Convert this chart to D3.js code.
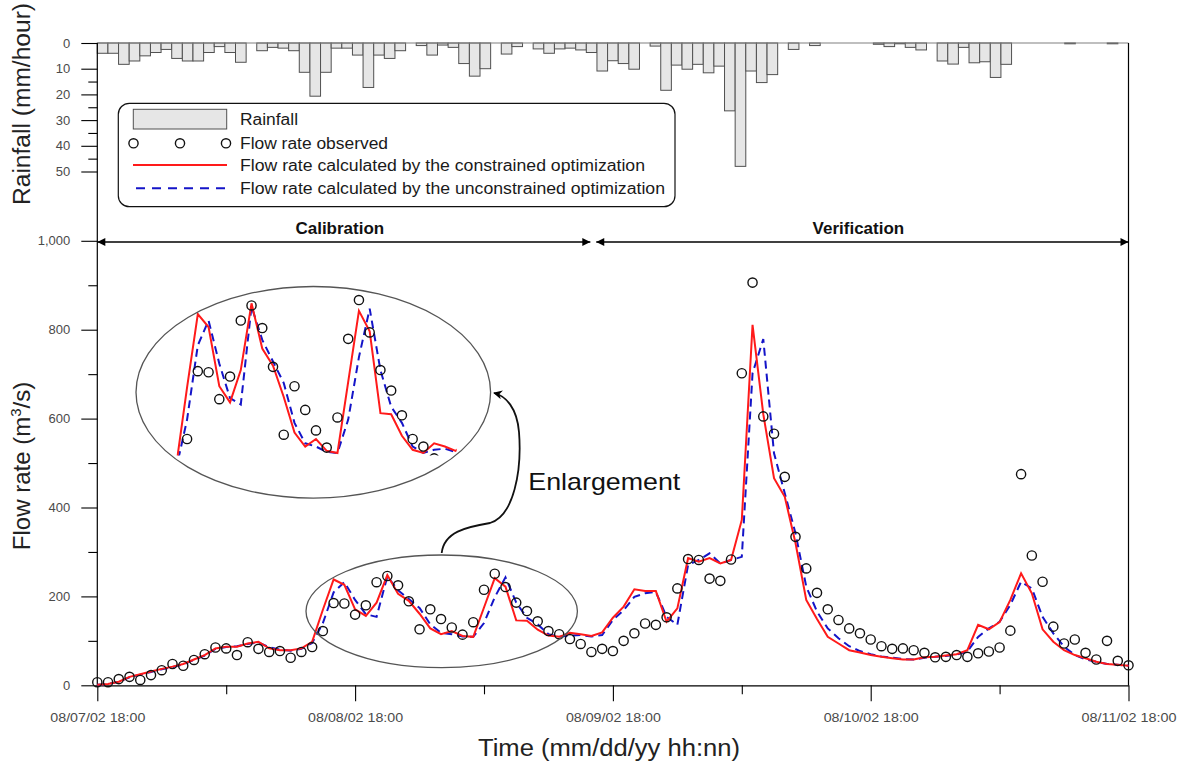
<!DOCTYPE html>
<html><head><meta charset="utf-8">
<script src="https://cdn.jsdelivr.net/npm/d3@7/dist/d3.min.js"></script>
<style>
body{margin:0;background:#fff}
svg{display:block}
text{font-family:"Liberation Sans",Arial,sans-serif}
</style>
</head><body>
<svg id="c" width="1184" height="763"></svg>
<script>
// ---------------- DATA ----------------
const hours = d3.range(0, 97); // hourly steps from 08/07/02 18:00
const rainfall = [4,4,8.3,7,5,3.7,2.5,6,7,7, 3.7,1.4,3.7,7.5,0,3,1.7,2,3,11.4,
  20.7,11.4,2,2,4.7,17.3,4.7,6,3,0, 1,4.7,0.8,1.7,8,12.9,10,0,4.3,1.4,
  0,2.3,4,2.3,2,2.7,3.7,10.9,6.9,8, 10.2,0,1.2,18.4,8.6,10.2,8.3,11.6,9,26.4,
  48,10.9,15.4,12.3,0,2.5,0,1,0,0, 0,0,0,0.5,1.4,0.3,1.7,2.7,0,7,
  8.2,1.7,7.7,7.3,13.4,8.3,0,0,0,0, 0,0.3,0,0,0,0.3,0];
const observed = [7,7,14,19,12,23,34,48,44,57, 70,85,83,68,97,82,75,77,62,75,
  86,122,185,184,159,180,232,246,225,189, 126,171,149,130,114,142,215,251,221,186,
  167,144,122,115,104,93,75,82,77,100, 117,139,136,153,218,284,282,240,235,283,
  702,906,605,566,469,334,263,208,171,147, 128,117,103,88,82,83,79,73,63,64,
  68,64,72,76,85,123,475,292,233,132, 94,103,73,58,100,55,45];
const constrained = [1,3,8,19,25,31,37,42,48,58, 68,83,87,87,94,98,83,79,79,83,
  98,170,238,226,171,156,186,248,206,190, 161,128,115,122,111,109,175,241,222,146,
  145,125,112,109,118,115,111,119,152,177, 216,212,212,143,173,286,278,286,274,282,
  372,811,610,466,424,320,192,149,109,94, 79,74,68,64,61,58,58,63,64,67,
  70,79,136,126,142,192,252,207,126,98, 79,68,61,53,48,46,44];
const unconstrained = [1,3,8,18,24,30,36,41,47,57, 67,82,86,88,93,96,86,80,78,82,
  95,140,209,232,192,160,154,245,214,194, 174,137,118,115,110,109,140,198,243,186,
  152,137,115,109,112,113,110,113,147,169, 199,207,210,154,136,271,282,297,274,282,
  289,702,779,522,432,342,222,166,128,106, 88,77,70,65,62,59,58,62,64,66,
  69,76,109,128,143,181,233,218,154,117, 87,68,58,53,48,46,44];
const xTickHours = [0,24,48,72,96];
const xMinorHours = [12,36,60,84];
const xTickLabels = ["08/07/02 18:00","08/08/02 18:00","08/09/02 18:00","08/10/02 18:00","08/11/02 18:00"];
const flowTicks = [0,200,400,600,800,1000];
const flowMinor = [100,300,500,700,900];
const rainTicks = [0,10,20,30,40,50];
const rainMinor = [15,25,35,45];
const periods = [{label:"Calibration", from:0, to:45.9},{label:"Verification", from:46.45, to:96}];
const legendItems = [
  {type:"bar", label:"Rainfall"},
  {type:"dot", label:"Flow rate observed"},
  {type:"red", label:"Flow rate calculated by the constrained optimization"},
  {type:"blue", label:"Flow rate calculated by the unconstrained optimization"}
];
const legendLengths = [58,148,405,425];
const insetRange = [20, 46.1];

// ---------------- DRAW ----------------
const svg = d3.select("#c");
const X0 = 97.3, X1 = 1128.5, Y0 = 685.3, YTOP = 43;
const x = d3.scaleLinear().domain([0,96]).range([X0,X1]);
const xb = d3.scaleBand().domain(hours).range([X0,X1]).padding(0);
const y = d3.scaleLinear().domain([0,1000]).range([Y0,240.8]);
const yr = d3.scaleLinear().domain([0,50]).range([YTOP,171.5]);
const RED = "#ff1a1a", BLUE = "#1414c8";

const defs = svg.append("defs");
defs.append("marker").attr("id","ah").attr("viewBox","0 0 10 10").attr("refX",10).attr("refY",5)
  .attr("markerWidth",10).attr("markerHeight",8).attr("markerUnits","userSpaceOnUse").attr("orient","auto-start-reverse")
  .append("path").attr("d","M0,0L10,5L0,10z").attr("fill","#000");
defs.append("marker").attr("id","ah2").attr("viewBox","0 0 10 10").attr("refX",9).attr("refY",5)
  .attr("markerWidth",11).attr("markerHeight",9).attr("markerUnits","userSpaceOnUse").attr("orient","auto")
  .append("path").attr("d","M0,0L10,5L0,10L3,5z").attr("fill","#000");

// rainfall bars
svg.append("g").selectAll("rect").data(hours.filter(i=>rainfall[i]>0)).join("rect")
  .attr("x",i=>xb(i)).attr("y",yr(0)).attr("width",xb.bandwidth())
  .attr("height",i=>Math.max(0.8,yr(rainfall[i])-yr(0)))
  .attr("fill","#e6e6e6").attr("stroke","#505050").attr("stroke-width",1);

// frame
svg.append("line").attr("x1",X0).attr("x2",X1).attr("y1",YTOP).attr("y2",YTOP).attr("stroke","#808080").attr("stroke-width",1.2);
svg.append("line").attr("x1",X1).attr("x2",X1).attr("y1",YTOP).attr("y2",Y0).attr("stroke","#000").attr("stroke-width",1.2);
svg.append("line").attr("x1",X0).attr("x2",X0).attr("y1",YTOP).attr("y2",Y0).attr("stroke","#000").attr("stroke-width",1.2);

function styleAxis(g){
  g.select(".domain").remove();
  g.selectAll(".tick line").attr("stroke","#000").attr("stroke-width",1.1);
  g.selectAll(".tick text").attr("fill","#4a4a4a").style("font-size","13px");
}
svg.append("g").attr("transform",`translate(${X0},0)`)
  .call(d3.axisLeft(yr).tickValues(rainTicks).tickSize(16).tickPadding(11)).call(styleAxis);
svg.append("g").attr("transform",`translate(${X0},0)`)
  .call(d3.axisLeft(yr).tickValues(rainMinor).tickSize(9).tickFormat("")).call(styleAxis);
svg.append("g").attr("transform",`translate(${X0},0)`)
  .call(d3.axisLeft(y).tickValues(flowTicks).tickSize(16).tickPadding(11).tickFormat(d3.format(","))).call(styleAxis);
svg.append("g").attr("transform",`translate(${X0},0)`)
  .call(d3.axisLeft(y).tickValues(flowMinor).tickSize(9).tickFormat("")).call(styleAxis);

const xg = svg.append("g").attr("transform",`translate(0,${Y0})`)
  .call(d3.axisBottom(x).tickValues(xTickHours).tickSize(16).tickSizeOuter(0).tickPadding(11).tickFormat((d,i)=>xTickLabels[i]));
xg.select(".domain").attr("stroke","#000").attr("stroke-width",1.2);
xg.selectAll(".tick line").attr("stroke","#000").attr("stroke-width",1.1);
xg.selectAll(".tick text").attr("fill","#4a4a4a").style("font-size","13px").attr("textLength",95).attr("lengthAdjust","spacingAndGlyphs");
svg.append("g").attr("transform",`translate(0,${Y0})`)
  .call(d3.axisBottom(x).tickValues(xMinorHours).tickSize(9).tickFormat("")).call(styleAxis);

// axis titles
svg.append("text").attr("transform","translate(30,104) rotate(-90)").attr("text-anchor","middle")
  .style("font-size","23px").attr("fill","#222").attr("textLength",202).attr("lengthAdjust","spacingAndGlyphs").text("Rainfall (mm/hour)");
const ft = svg.append("text").attr("transform","translate(30,466) rotate(-90)").attr("text-anchor","middle")
  .style("font-size","24px").attr("fill","#222");
ft.append("tspan").text("Flow rate (m");
ft.append("tspan").attr("dy",-9).style("font-size","15px").text("3");
ft.append("tspan").attr("dy",9).text("/s)");
svg.append("text").attr("x",609).attr("y",756).attr("text-anchor","middle").style("font-size","23px").attr("fill","#222")
  .attr("textLength",262).attr("lengthAdjust","spacingAndGlyphs").text("Time (mm/dd/yy hh:nn)");

// period arrows
periods.forEach(p=>{
  svg.append("line").attr("x1",x(p.from)).attr("x2",x(p.to)).attr("y1",242).attr("y2",242)
    .attr("stroke","#000").attr("stroke-width",1.6).attr("marker-start","url(#ah)").attr("marker-end","url(#ah)");
  svg.append("text").attr("x",(x(p.from)+x(p.to))/2-4).attr("y",234).attr("text-anchor","middle")
    .style("font-size","17px").style("font-weight","bold").attr("fill","#111").text(p.label);
});

// main series
const line = (arr, xs, ys) => d3.line().x((d,i)=>xs(i)).y(d=>ys(d))(arr);
function drawSeries(g, xs, ys, r){
  g.append("path").attr("d",line(unconstrained,xs,ys)).attr("fill","none").attr("stroke",BLUE)
    .attr("stroke-width",2).attr("stroke-dasharray","8,5");
  g.append("path").attr("d",line(constrained,xs,ys)).attr("fill","none").attr("stroke",RED).attr("stroke-width",2);
  g.append("g").selectAll("circle").data(observed).join("circle")
    .attr("cx",(d,i)=>xs(i)).attr("cy",d=>ys(d)).attr("r",r)
    .attr("fill","none").attr("stroke","#111").attr("stroke-width",1.4);
}
drawSeries(svg.append("g"), x, y, 4.6);

// main ellipse
svg.append("ellipse").attr("cx",441.7).attr("cy",611.3).attr("rx",135.7).attr("ry",56.3)
  .attr("fill","none").attr("stroke","#555").attr("stroke-width",1.3);

// inset enlargement
const xi = d3.scaleLinear().domain([0,96]).range([X0-135.8, X1-135.8]);
const yi = d3.scaleLinear().domain([109,248]).range([453,303.3]);
defs.append("clipPath").attr("id","insetClip").append("rect")
  .attr("x",xi(insetRange[0])).attr("width",xi(insetRange[1])-xi(insetRange[0]))
  .attr("y",282).attr("height",455.5-282);
drawSeries(svg.append("g").attr("clip-path","url(#insetClip)"), xi, yi, 4.6);
svg.append("ellipse").attr("cx",313.3).attr("cy",392.3).attr("rx",177.3).attr("ry",105.8)
  .attr("fill","none").attr("stroke","#555").attr("stroke-width",1.3);

// curved arrow + label
svg.append("path").attr("d","M441.7,553 C444,532 466,527 490,523 C514,516 522,470 519,432 C517,408 506,396 494,393")
  .attr("fill","none").attr("stroke","#111").attr("stroke-width",1.8).attr("marker-end","url(#ah2)");
svg.append("text").attr("x",528.3).attr("y",490).style("font-size","24px").attr("fill","#111")
  .attr("textLength",152).attr("lengthAdjust","spacingAndGlyphs").text("Enlargement");

// legend
const lg = svg.append("g");
lg.append("rect").attr("x",118.3).attr("y",103.3).attr("width",556.7).attr("height",103.4).attr("rx",11)
  .attr("fill","#fff").attr("stroke","#111").attr("stroke-width",1.2);
const rowY = [119.3,143.3,165,188.3];
legendItems.forEach((it,k)=>{
  const cy = rowY[k];
  if(it.type==="bar") lg.append("rect").attr("x",133.3).attr("y",109.3).attr("width",93.4).attr("height",19.7)
      .attr("fill","#e6e6e6").attr("stroke","#505050").attr("stroke-width",1);
  if(it.type==="dot") [133.5,180,226].forEach(cx=>lg.append("circle").attr("cx",cx).attr("cy",cy).attr("r",4.6)
      .attr("fill","none").attr("stroke","#111").attr("stroke-width",1.4));
  if(it.type==="red") lg.append("line").attr("x1",133).attr("x2",227).attr("y1",cy).attr("y2",cy).attr("stroke",RED).attr("stroke-width",2);
  if(it.type==="blue") lg.append("line").attr("x1",136).attr("x2",227).attr("y1",cy).attr("y2",cy).attr("stroke",BLUE)
      .attr("stroke-width",2).attr("stroke-dasharray","9,7");
  lg.append("text").attr("x",240).attr("y",cy+5.5).style("font-size","16px").attr("fill","#1a1a1a")
    .attr("textLength",legendLengths[k]).attr("lengthAdjust","spacingAndGlyphs").text(it.label);
});
</script>
</body></html>
